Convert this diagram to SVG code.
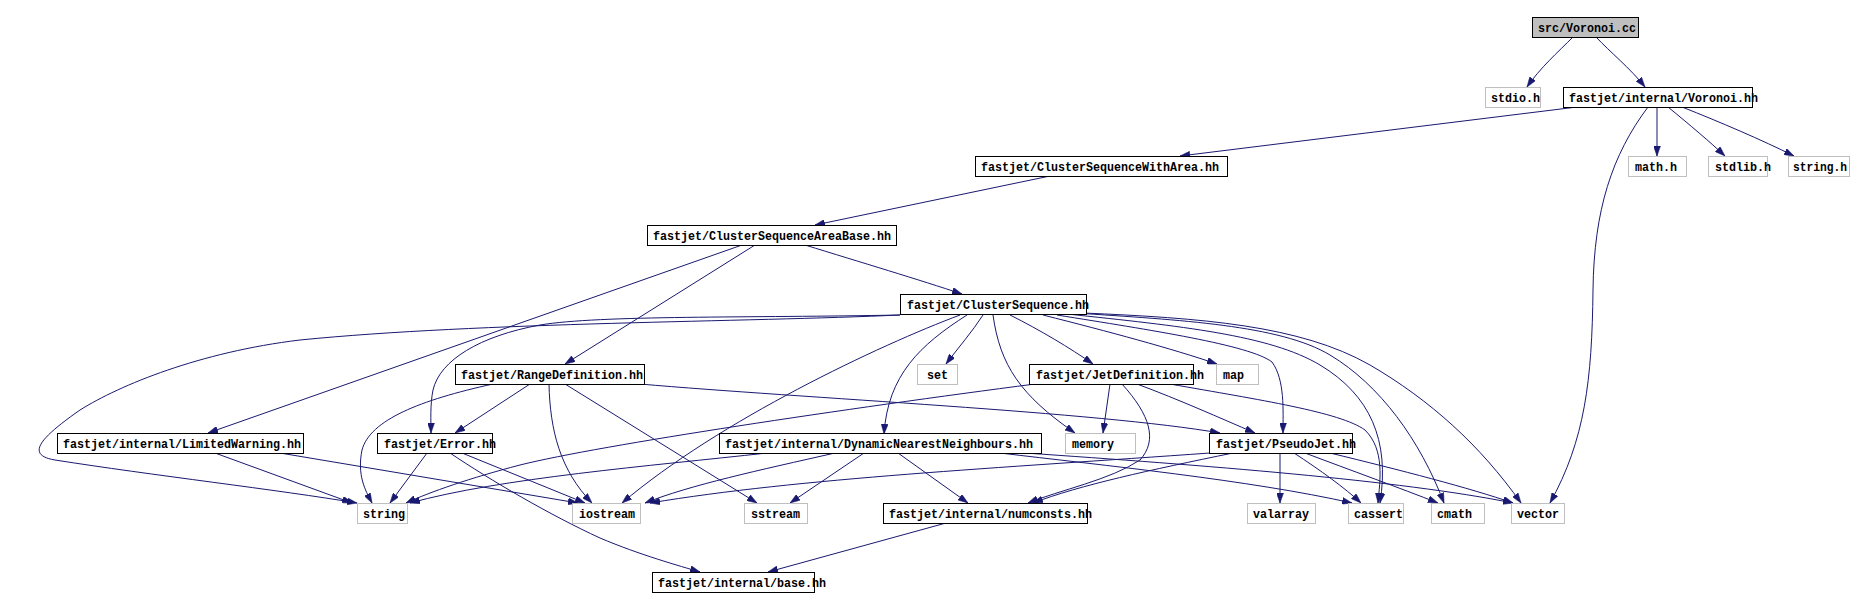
<svg xmlns="http://www.w3.org/2000/svg" width="1854" height="609" viewBox="0 0 1854 609">
<style>
.n rect{fill:#fff;stroke:#000;stroke-width:1}
.g rect{fill:#fff;stroke:#bfbfbf;stroke-width:1}
.r rect{fill:#bfbfbf;stroke:#000;stroke-width:1}
text{font-family:"Liberation Mono","DejaVu Sans Mono",monospace;font-size:13.2px;font-weight:bold;fill:#000}
.e{fill:none;stroke:#191970;stroke-width:1;marker-end:url(#a)}
</style>
<defs>
<marker id="a" viewBox="0 0 10 7" markerWidth="10" markerHeight="7" refX="10" refY="3.5" orient="auto" markerUnits="userSpaceOnUse">
<path d="M0,0 L10,3.5 L0,7 z" fill="#191970" stroke="#191970" stroke-width="0.5"/>
</marker>
</defs>
<rect width="1854" height="609" fill="#fff"/>
<g id="edges">
<path class="e" d="M1573,37 C1558,52 1540,68 1527,87"/>
<path class="e" d="M1596,37 C1610,52 1630,68 1645,87"/>
<path class="e" d="M1577,107 L1180,156"/>
<path class="e" d="M1657,107 L1657,156"/>
<path class="e" d="M1668,107 C1690,125 1710,142 1725,156"/>
<path class="e" d="M1682,107 C1720,122 1762,140 1794,156"/>
<path class="e" d="M1648,107 C1612,155 1594,210 1593,290 C1592,380 1585,440 1550,503"/>
<path class="e" d="M1050,176 L815,225"/>
<path class="e" d="M805,245 C860,262 920,280 962,294"/>
<path class="e" d="M742,245 L208,433"/>
<path class="e" d="M755,245 L565,364"/>
<path class="e" d="M900,315 C750,322 480,322 300,340 C200,352 120,385 80,410 C40,438 25,455 55,460 C150,475 280,490 357,503"/>
<path class="e" d="M900,315 C750,318 600,315 540,325 C480,336 440,360 433,390 C430,405 431,420 431,433"/>
<path class="e" d="M960,315 C880,345 720,420 622,503"/>
<path class="e" d="M967,315 C920,345 888,375 884,434"/>
<path class="e" d="M983,315 C972,332 958,348 946,364"/>
<path class="e" d="M993,315 C1000,365 1020,395 1075,433"/>
<path class="e" d="M1010,315 C1040,330 1070,348 1093,364"/>
<path class="e" d="M1043,315 C1110,332 1170,348 1217,364"/>
<path class="e" d="M1057,315 C1150,330 1250,345 1272,362 C1285,380 1283,410 1283,433"/>
<path class="e" d="M1067,314 C1180,326 1270,335 1320,365 C1370,395 1390,440 1380,503"/>
<path class="e" d="M1075,313 C1180,320 1280,325 1330,355 C1380,385 1420,440 1444,503"/>
<path class="e" d="M1083,313 C1200,318 1300,325 1370,365 C1430,400 1480,445 1521,503"/>
<path class="e" d="M493,384 C420,400 370,420 362,450 C357,475 365,490 372,503"/>
<path class="e" d="M530,384 L455,433"/>
<path class="e" d="M549,384 C550,430 560,470 592,503"/>
<path class="e" d="M565,384 L757,503"/>
<path class="e" d="M640,384 C800,398 1100,412 1220,433"/>
<path class="e" d="M215,453 L352,503"/>
<path class="e" d="M280,453 L578,503"/>
<path class="e" d="M427,453 L390,503"/>
<path class="e" d="M462,453 L585,503"/>
<path class="e" d="M450,453 C490,480 550,515 600,538 C640,555 680,566 700,572"/>
<path class="e" d="M1035,384 C850,408 600,445 520,465 C470,478 430,492 406,503"/>
<path class="e" d="M1110,384 L1103,433"/>
<path class="e" d="M1122,384 C1150,415 1158,440 1140,460 C1110,480 1060,490 1028,503"/>
<path class="e" d="M1137,384 C1180,400 1220,418 1255,433"/>
<path class="e" d="M1170,384 C1260,400 1340,412 1365,430 C1385,450 1380,480 1378,503"/>
<path class="e" d="M767,453 C650,466 500,478 410,503"/>
<path class="e" d="M835,453 C760,470 690,485 645,503"/>
<path class="e" d="M864,453 L790,503"/>
<path class="e" d="M898,453 L968,503"/>
<path class="e" d="M1000,453 C1100,465 1250,480 1352,503"/>
<path class="e" d="M1025,453 C1200,465 1400,480 1513,503"/>
<path class="e" d="M1210,453 C1000,468 800,478 650,503"/>
<path class="e" d="M1233,453 C1150,470 1080,485 1033,503"/>
<path class="e" d="M1280,453 L1280,503"/>
<path class="e" d="M1294,453 C1320,470 1345,488 1361,503"/>
<path class="e" d="M1305,453 C1350,470 1400,488 1438,503"/>
<path class="e" d="M1330,453 C1400,470 1470,488 1513,503"/>
<path class="e" d="M946,523 L768,572"/>
</g>
<g id="n_voronoi_cc" class="r"><rect x="1532.5" y="17.5" width="106" height="20"/><text x="1538" y="31.5" textLength="98" lengthAdjust="spacingAndGlyphs">src/Voronoi.cc</text></g>
<g id="n_stdio" class="g"><rect x="1485.5" y="87.5" width="55" height="20"/><text x="1491" y="101.5" textLength="49" lengthAdjust="spacingAndGlyphs">stdio.h</text></g>
<g id="n_voronoi_hh" class="n"><rect x="1563.5" y="87.5" width="189" height="20"/><text x="1569" y="101.5" textLength="189" lengthAdjust="spacingAndGlyphs">fastjet/internal/Voronoi.hh</text></g>
<g id="n_math" class="g"><rect x="1628.5" y="156.5" width="58" height="20"/><text x="1635" y="170.5" textLength="42" lengthAdjust="spacingAndGlyphs">math.h</text></g>
<g id="n_stdlib" class="g"><rect x="1708.5" y="156.5" width="59" height="20"/><text x="1715" y="170.5" textLength="56" lengthAdjust="spacingAndGlyphs">stdlib.h</text></g>
<g id="n_string_h" class="g"><rect x="1788.5" y="156.5" width="61" height="20"/><text x="1793" y="170.5" textLength="54" lengthAdjust="spacingAndGlyphs">string.h</text></g>
<g id="n_cswa" class="n"><rect x="975.5" y="156.5" width="252" height="20"/><text x="981" y="170.5" textLength="238" lengthAdjust="spacingAndGlyphs">fastjet/ClusterSequenceWithArea.hh</text></g>
<g id="n_csab" class="n"><rect x="647.5" y="225.5" width="249" height="20"/><text x="653" y="239.5" textLength="238" lengthAdjust="spacingAndGlyphs">fastjet/ClusterSequenceAreaBase.hh</text></g>
<g id="n_cs" class="n"><rect x="900.5" y="294.5" width="186" height="20"/><text x="907" y="308.5" textLength="182" lengthAdjust="spacingAndGlyphs">fastjet/ClusterSequence.hh</text></g>
<g id="n_set" class="g"><rect x="917.5" y="364.5" width="40" height="20"/><text x="927" y="378.5" textLength="21" lengthAdjust="spacingAndGlyphs">set</text></g>
<g id="n_jetdef" class="n"><rect x="1029.5" y="364.5" width="164" height="20"/><text x="1036" y="378.5" textLength="168" lengthAdjust="spacingAndGlyphs">fastjet/JetDefinition.hh</text></g>
<g id="n_map" class="g"><rect x="1216.5" y="364.5" width="42" height="20"/><text x="1223" y="378.5" textLength="21" lengthAdjust="spacingAndGlyphs">map</text></g>
<g id="n_rangedef" class="n"><rect x="455.5" y="364.5" width="189" height="20"/><text x="461" y="378.5" textLength="182" lengthAdjust="spacingAndGlyphs">fastjet/RangeDefinition.hh</text></g>
<g id="n_limwarn" class="n"><rect x="57.5" y="433.5" width="246" height="20"/><text x="63" y="447.5" textLength="238" lengthAdjust="spacingAndGlyphs">fastjet/internal/LimitedWarning.hh</text></g>
<g id="n_error" class="n"><rect x="377.5" y="433.5" width="115" height="20"/><text x="384" y="447.5" textLength="112" lengthAdjust="spacingAndGlyphs">fastjet/Error.hh</text></g>
<g id="n_dnn" class="n"><rect x="719.5" y="433.5" width="322" height="20"/><text x="725" y="447.5" textLength="308" lengthAdjust="spacingAndGlyphs">fastjet/internal/DynamicNearestNeighbours.hh</text></g>
<g id="n_memory" class="g"><rect x="1065.5" y="433.5" width="70" height="20"/><text x="1072" y="447.5" textLength="42" lengthAdjust="spacingAndGlyphs">memory</text></g>
<g id="n_pseudojet" class="n"><rect x="1209.5" y="433.5" width="143" height="20"/><text x="1216" y="447.5" textLength="140" lengthAdjust="spacingAndGlyphs">fastjet/PseudoJet.hh</text></g>
<g id="n_string" class="g"><rect x="357.5" y="503.5" width="50" height="20"/><text x="363" y="517.5" textLength="42" lengthAdjust="spacingAndGlyphs">string</text></g>
<g id="n_iostream" class="g"><rect x="572.5" y="503.5" width="68" height="20"/><text x="579" y="517.5" textLength="56" lengthAdjust="spacingAndGlyphs">iostream</text></g>
<g id="n_sstream" class="g"><rect x="744.5" y="503.5" width="63" height="20"/><text x="751" y="517.5" textLength="49" lengthAdjust="spacingAndGlyphs">sstream</text></g>
<g id="n_numconsts" class="n"><rect x="883.5" y="503.5" width="204" height="20"/><text x="889" y="517.5" textLength="203" lengthAdjust="spacingAndGlyphs">fastjet/internal/numconsts.hh</text></g>
<g id="n_valarray" class="g"><rect x="1247.5" y="503.5" width="68" height="20"/><text x="1253" y="517.5" textLength="56" lengthAdjust="spacingAndGlyphs">valarray</text></g>
<g id="n_cassert" class="g"><rect x="1348.5" y="503.5" width="55" height="20"/><text x="1354" y="517.5" textLength="49" lengthAdjust="spacingAndGlyphs">cassert</text></g>
<g id="n_cmath" class="g"><rect x="1431.5" y="503.5" width="53" height="20"/><text x="1437" y="517.5" textLength="35" lengthAdjust="spacingAndGlyphs">cmath</text></g>
<g id="n_vector" class="g"><rect x="1511.5" y="503.5" width="53" height="20"/><text x="1517" y="517.5" textLength="42" lengthAdjust="spacingAndGlyphs">vector</text></g>
<g id="n_base" class="n"><rect x="652.5" y="572.5" width="162" height="20"/><text x="658" y="586.5" textLength="168" lengthAdjust="spacingAndGlyphs">fastjet/internal/base.hh</text></g>
</svg>
